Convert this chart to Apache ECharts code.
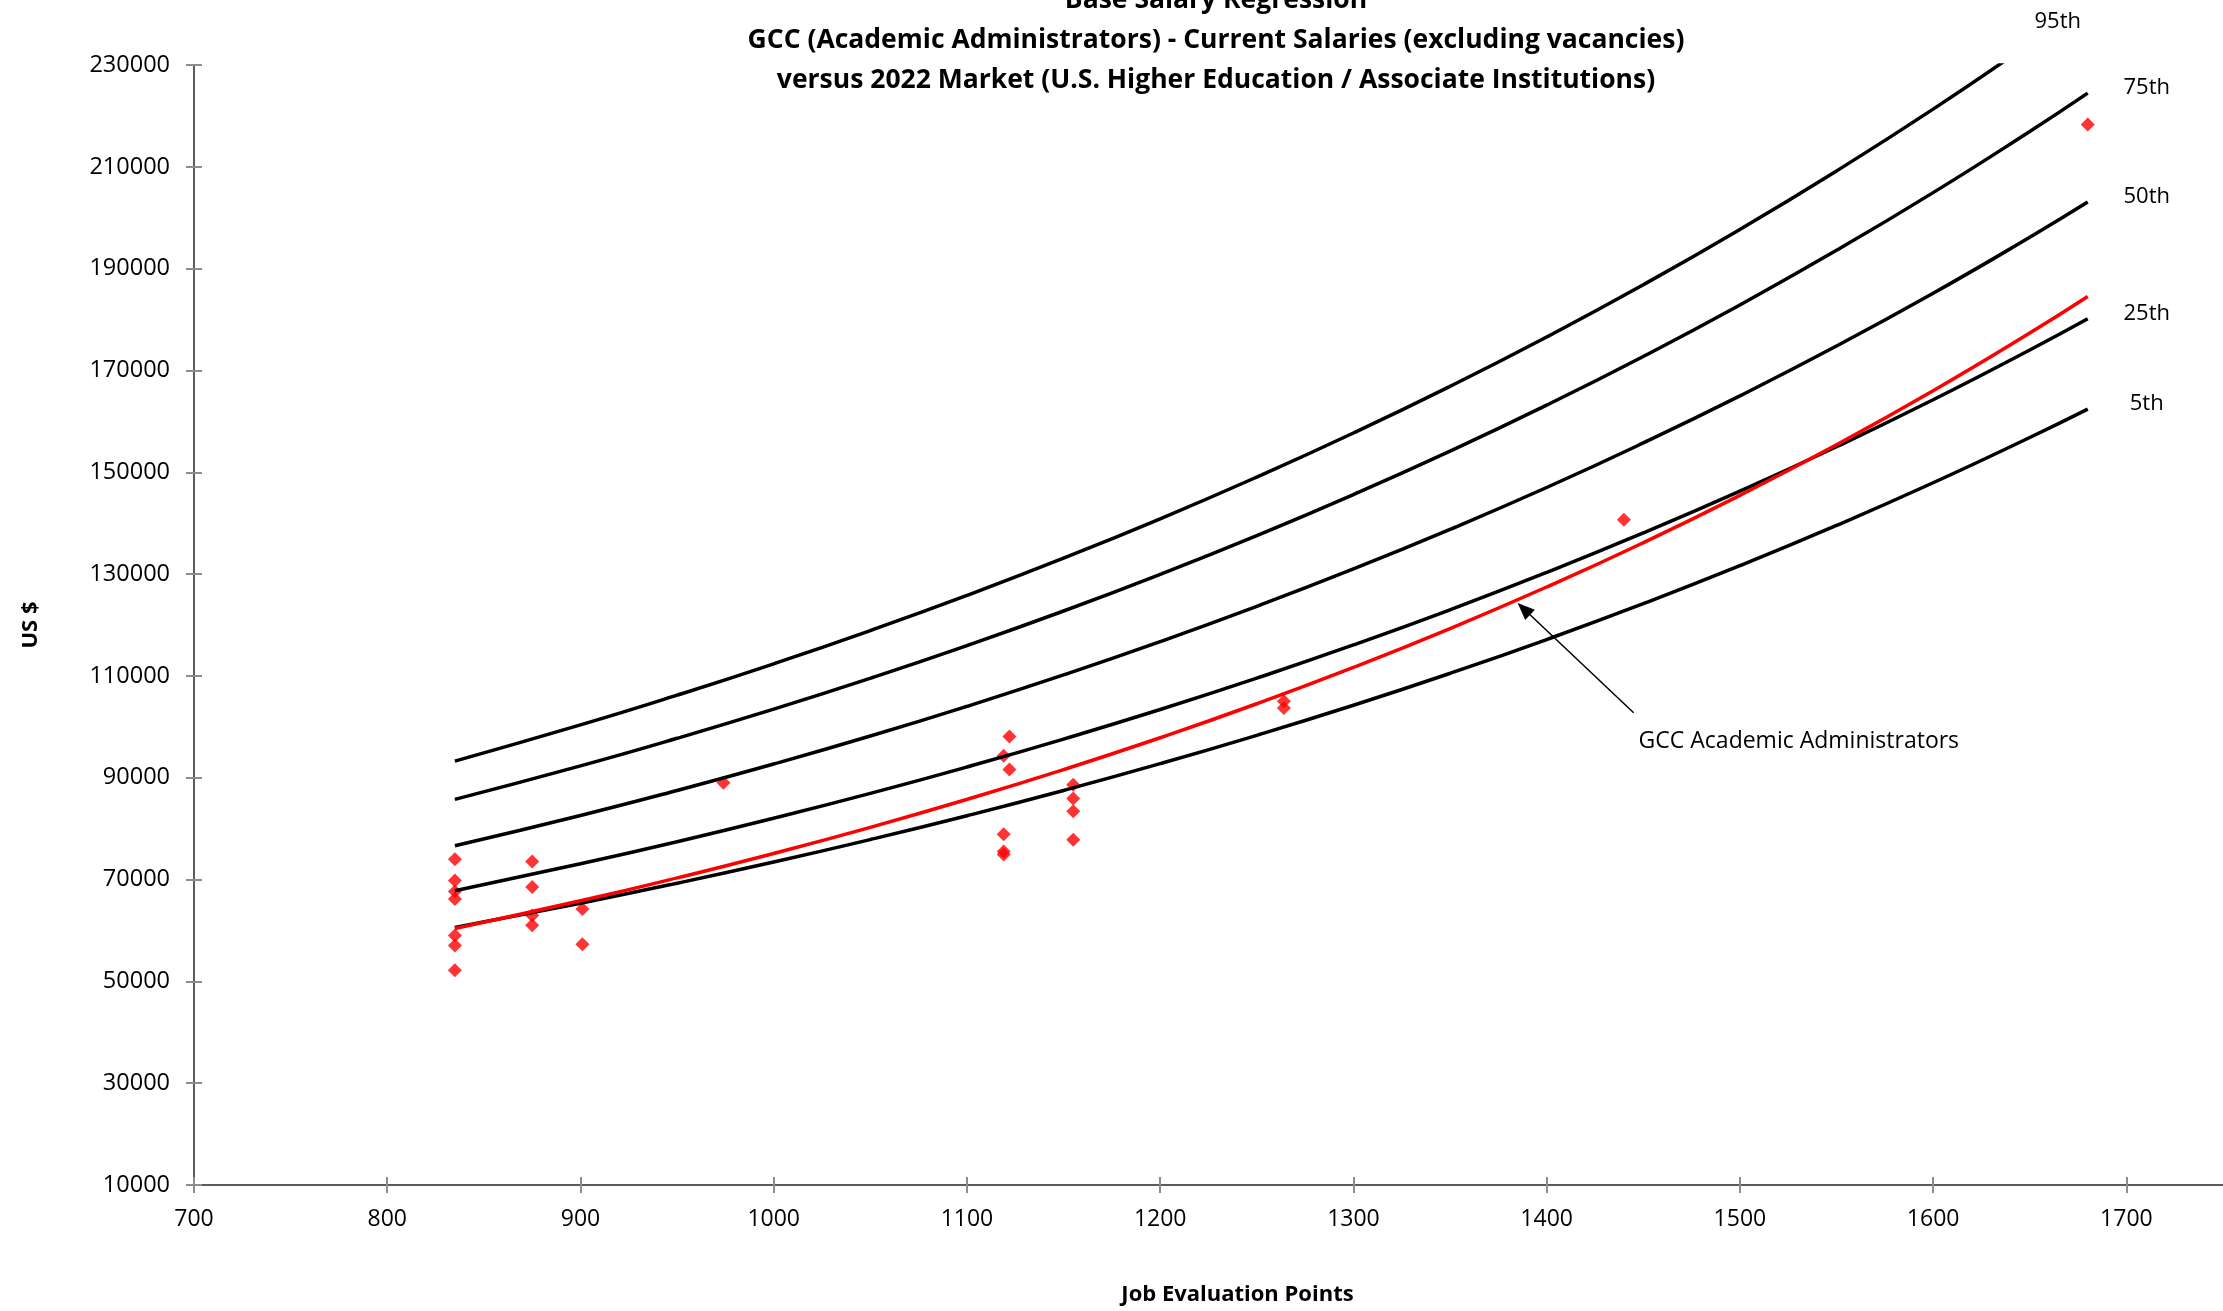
<!DOCTYPE html>
<html>
<head>
<meta charset="utf-8">
<script src="https://cdn.jsdelivr.net/npm/echarts@6/dist/echarts.min.js"></script>
<style>
  html, body { margin: 0; padding: 0; background: #fff; }
  #chart { width: 2223px; height: 1311px; }
</style>
</head>
<body>
<div id="chart"></div>
<script>
// title + labels
const titleLines = [
  'Base Salary Regression',
  'GCC (Academic Administrators) - Current Salaries (excluding vacancies)',
  'versus 2022 Market (U.S. Higher Education / Associate Institutions)'
]
const xName = 'Job Evaluation Points'
const yName = 'US $'
const annotation = 'GCC Academic Administrators'
const xTicks = [700, 800, 900, 1000, 1100, 1200, 1300, 1400, 1500, 1600, 1700]

// market curves
const curveX = [835, 900, 950, 1000, 1050, 1100, 1150, 1200, 1250, 1300, 1350, 1400, 1450, 1500, 1550, 1600, 1650, 1680]
const percentiles = ['5th', '25th', '50th', '75th', '95th']
const p5 = [60580, 65360, 69280, 73440, 77860, 82540, 87500, 92760, 98330, 104230, 110500, 117140, 124180, 131640, 139550, 147940, 156830, 162410]
const p25 = [67790, 73090, 77430, 82050, 86930, 92110, 97590, 103400, 109560, 116080, 122990, 130320, 138080, 146300, 155010, 164240, 174020, 180150]
const p50 = [76630, 82590, 87500, 92690, 98190, 104030, 110200, 116740, 123670, 131010, 138790, 147010, 155760, 165000, 174790, 185160, 196160, 203070]
const p75 = [85750, 92340, 97750, 103470, 109540, 115960, 122750, 129950, 137560, 145620, 154150, 163190, 172750, 182870, 193590, 204930, 216950, 224480]
const p95 = [93270, 100370, 106210, 112380, 118910, 125820, 133130, 140860, 149060, 157720, 166880, 176580, 186840, 197700, 209190, 221330, 234210, 242270]
const percentileValues = [p5, p25, p50, p75, p95]

// GCC regression line
const gccFit = [60400, 65820, 70320, 75120, 80250, 85740, 91590, 97850, 104530, 111670, 119300, 127460, 136160, 145470, 155400, 166020, 177350, 184530]

// current salaries (points, salary)
const empX = [835, 835, 835, 835, 835, 835, 835, 875, 875, 875, 875, 901, 901, 974,
  1119, 1119, 1119, 1119, 1122, 1122, 1155, 1155, 1155, 1155, 1264, 1264, 1440, 1680]
const empY = [74000, 69800, 67650, 66200, 59000, 57050, 52200, 73550, 68550, 62950, 61000, 64200, 57300, 89000,
  94300, 78900, 75500, 74900, 98100, 91600, 88600, 85900, 83400, 77800, 105000, 103700, 140650, 218300]

// arrow for the annotation: from, to (data coords)
const arrowFrom = [1445, 102750]
const arrowTo = [1385, 124300]

const FONT = "'Open Sans', 'Noto Sans', sans-serif"
var chart = echarts.init(document.getElementById('chart'))

function pairs(xs, ys) {
  return xs.map((x, i) => [x, ys[i]])
}

function axisCommon(extra) {
  return Object.assign({
    type: 'value',
    splitLine: { show: false },
    axisLine: { show: true, onZero: false, lineStyle: { color: '#262626', width: 1.5 } },
    axisTick: { show: true, length: 8, lineStyle: { color: '#8c8c8c', width: 2 } },
    axisLabel: { color: '#000', fontSize: 23, fontFamily: FONT }
  }, extra)
}

let series = [{
  name: 'Current Salaries',
  type: 'scatter',
  symbol: 'diamond',
  symbolSize: 14,
  itemStyle: { color: '#ff0000' },
  data: pairs(empX, empY),
  silent: true
}]

percentiles.forEach((p, i) => {
  series.push({
    name: p,
    type: 'line',
    data: pairs(curveX, percentileValues[i]),
    smooth: true,
    showSymbol: false,
    symbol: 'none',
    lineStyle: { color: '#000', width: 3.5 },
    silent: true
  })
})

series.push({
  name: annotation,
  type: 'line',
  data: pairs(curveX, gccFit),
  smooth: true,
  showSymbol: false,
  symbol: 'none',
  lineStyle: { color: '#ff0000', width: 3.5 },
  silent: true
})

chart.setOption({
  animation: false,
  backgroundColor: '#fff',
  textStyle: { fontFamily: FONT },
  grid: { left: 194, right: 0, top: 65, bottom: 126, containLabel: false },
  xAxis: [
    axisCommon({
      min: 700, max: 1750, interval: 100, position: 'bottom',
      axisTick: { show: true, length: 8, customValues: xTicks, lineStyle: { color: '#8c8c8c', width: 2 } },
      axisLabel: { color: '#000', fontSize: 23, fontFamily: FONT, margin: 23, customValues: xTicks,
        formatter: v => String(v) },
      name: xName, nameLocation: 'middle', nameGap: 99,
      nameTextStyle: { color: '#000', fontWeight: 'bold', fontSize: 22, fontFamily: FONT, padding: [0, 0, 0, 58] }
    }),
    axisCommon({
      min: 700, max: 1750, interval: 100, position: 'bottom',
      axisLine: { show: false },
      axisTick: { show: true, inside: true, length: 8, customValues: xTicks, lineStyle: { color: '#8c8c8c', width: 2 } },
      axisLabel: { show: false }
    })
  ],
  yAxis: [
    axisCommon({
      min: 10000, max: 230000, interval: 20000, position: 'left',
      axisLabel: { color: '#000', fontSize: 23.5, fontFamily: FONT, margin: 24, formatter: v => String(v) },
      name: yName, nameLocation: 'middle', nameRotate: 90, nameGap: 152,
      nameTextStyle: { color: '#000', fontWeight: 'bold', fontSize: 22, fontFamily: FONT }
    }),
    axisCommon({
      min: 10000, max: 230000, interval: 20000, position: 'left',
      axisLine: { show: false },
      axisTick: { show: true, inside: true, length: 8, lineStyle: { color: '#8c8c8c', width: 2 } },
      axisLabel: { show: false }
    })
  ],
  series: series
})

// title, percentile labels and the arrow annotation
let graphics = [{
  type: 'text',
  x: 1216,
  y: -20,
  style: {
    text: titleLines.join('\n'), fontSize: 26.5, fontWeight: 'bold', fontFamily: FONT, lineHeight: 40,
    fill: '#000', align: 'center', verticalAlign: 'top'
  }
}]

percentiles.forEach((p, i) => {
  let vals = percentileValues[i]
  let end = chart.convertToPixel({ seriesIndex: i + 1 }, [curveX[curveX.length - 1], vals[vals.length - 1]])
  let off = p === '95th' ? [-30, 19] : [59, -5]
  graphics.push({
    type: 'text',
    x: end[0] + off[0],
    y: end[1] + off[1],
    style: { text: p, fontSize: 22, fontFamily: FONT, fill: '#000', align: 'center', verticalAlign: 'middle' }
  })
})

let tail = chart.convertToPixel({ seriesIndex: 6 }, arrowFrom)
let tip = chart.convertToPixel({ seriesIndex: 6 }, arrowTo)
let ang = Math.atan2(tip[1] - tail[1], tip[0] - tail[0])
let headLen = 17
let headW = 7
let bx = tip[0] - headLen * Math.cos(ang)
let by = tip[1] - headLen * Math.sin(ang)
graphics.push({
  type: 'line',
  shape: { x1: tail[0], y1: tail[1], x2: bx, y2: by },
  style: { stroke: '#000', lineWidth: 1.5 }
})
graphics.push({
  type: 'polygon',
  shape: { points: [
    [tip[0], tip[1]],
    [bx + headW * Math.sin(ang), by - headW * Math.cos(ang)],
    [bx - headW * Math.sin(ang), by + headW * Math.cos(ang)]
  ] },
  style: { fill: '#000' }
})
graphics.push({
  type: 'text',
  x: tail[0] + 5,
  y: tail[1] + 29,
  style: { text: annotation, fontSize: 23, fontFamily: FONT, fill: '#000', align: 'left', verticalAlign: 'middle' }
})

chart.setOption({ graphic: graphics })
</script>
</body>
</html>
